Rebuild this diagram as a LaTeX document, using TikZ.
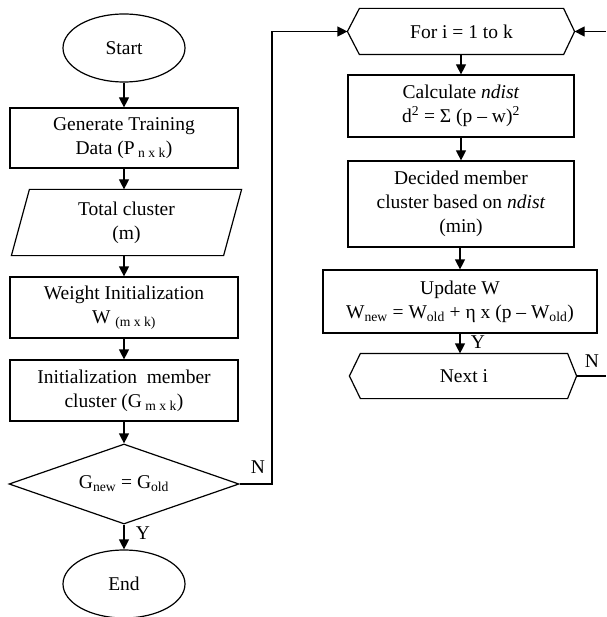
\documentclass[tikz,border=0pt]{standalone}
\usepackage{fontspec}
\setmainfont{Liberation Serif}
\usetikzlibrary{shapes.geometric,arrows.meta}
\begin{document}
\begin{tikzpicture}[x=1pt,y=-1pt,
  line width=1.2pt,
  font=\fontsize{19.5}{24}\selectfont,
  box/.style={draw, rectangle, align=center, inner sep=0pt},
  term/.style={draw, ellipse, inner sep=0pt, minimum width=122pt, minimum height=68pt},
  plain/.style={align=center, inner sep=0pt},
  arr/.style={-{Triangle[length=10pt,width=10pt]}},
  lbl/.style={inner sep=0pt}]
\useasboundingbox (0,0) rectangle (606,617);
% left column
\node[term] (start) at (124,48) {Start};
\node[box, minimum width=228pt, minimum height=60pt] (gen) at (124,138) {Generate Training\\ Data (P\textsubscript{ n x k})};
\node[plain, minimum width=211pt, minimum height=65pt] (tc) at (126.5,222.5) {Total cluster\\ (m)};
\draw ([xshift=9pt]tc.north west) -- ([xshift=9pt]tc.north east) -- ([xshift=-9pt]tc.south east) -- ([xshift=-9pt]tc.south west) -- cycle;
\node[box, minimum width=228pt, minimum height=61pt] (wi) at (124,307.5) {Weight Initialization\\ W \textsubscript{(m x k)}};
\node[box, minimum width=228pt, minimum height=61pt] (im) at (124,390.5) {Initialization\ \ member\\ cluster (G\textsubscript{ m x k})};
\node[draw, diamond, aspect=2.875, inner sep=0pt, minimum width=230pt, minimum height=80pt] (dec) at (124,484) {G\textsubscript{new} = G\textsubscript{old}};
\node[term] (end) at (124,584) {End};
% right column
\node[plain, minimum width=203pt, minimum height=45pt] (for) at (461.5,31.5) {For i = 1 to k};
\coordinate (forL) at ([xshift=-12pt]for.west);
\coordinate (forR) at ([xshift=11pt]for.east);
\draw (forL) -- (for.north west) -- (for.north east) -- (forR) -- (for.south east) -- (for.south west) -- cycle;
\node[box, minimum width=226pt, minimum height=62pt] (calc) at (461,106) {Calculate \textit{ndist}\\ d\textsuperscript{2} = Σ (p – w)\textsuperscript{2}};
\node[box, minimum width=226pt, minimum height=86pt] (dm) at (461,204) {Decided member\\ cluster based on \textit{ndist}\\ (min)};
\node[box, minimum width=274pt, minimum height=63pt] (upd) at (460,301.5) {Update W\\ W\textsubscript{new} = W\textsubscript{old} + η x (p – W\textsubscript{old})};
\node[plain, minimum width=206pt, minimum height=44pt] (next) at (464,376) {Next i};
\coordinate (nextL) at ([xshift=-11pt]next.west);
\coordinate (nextR) at ([xshift=9pt]next.east);
\draw (nextL) -- (next.north west) -- (next.north east) -- (nextR) -- (next.south east) -- (next.south west) -- cycle;
% connectors left
\draw[arr] (start.south) -- (gen.north);
\draw[arr] (gen.south) -- (gen.south |- tc.north);
\draw[arr] (wi.north |- tc.south) -- (wi.north);
\draw[arr] (wi.south) -- (im.north);
\draw[arr] (im.south) -- (dec.north);
\draw[arr] (dec.south) -- (end.north);
\node[lbl] (y1) at (143,533) {Y};
\coordinate (nc) at (272,484);
\draw[arr] (dec.east) -- (nc) |- (forL);
\node[lbl] (n1) at (258,467) {N};
% connectors right
\draw[arr] (calc.north |- for.south) -- (calc.north);
\draw[arr] (calc.south) -- (dm.north);
\draw[arr] (dm.south -| upd.north) -- (upd.north);
\draw[arr] (upd.south) -- (upd.south |- next.north);
\node[lbl] (y2) at (478,342) {Y};
\coordinate (rin) at (606,31.5);
\draw[arr] (rin) -- (forR);
\coordinate (rout) at (606,376);
\draw (nextR) -- (rout);
\node[lbl] (n2) at (592,361) {N};
\end{tikzpicture}
\end{document}
